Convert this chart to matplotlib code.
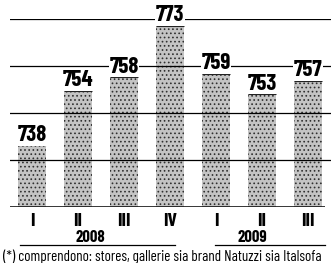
import matplotlib
matplotlib.use('Agg')

import matplotlib.pyplot as plt
import matplotlib.transforms as mtransforms
import numpy as np

quarters = ['I', 'II', 'III', 'IV', 'I', 'II', 'III']
values = [738, 754, 758, 773, 759, 753, 757]
years = ['2008', '2009']
footnote = '(*) comprendono: stores, gallerie sia brand Natuzzi sia Italsofa'

plt.rcParams['font.family'] = ['Barlow Condensed', 'DejaVu Sans']
plt.rcParams['hatch.linewidth'] = 0.7
plt.rcParams['hatch.color'] = '#303030'

fig = plt.figure(figsize=(3.31, 2.63), dpi=100)
ax = fig.add_axes([10 / 331, 56 / 263, 321 / 331, 188 / 263])
ax.set_xlim(-0.48, 6.5)
ax.set_ylim(720, 775)
ax.axis('off')

x = np.arange(len(values))
w = 0.6
ax.bar(x, np.array(values) - 720, bottom=720, width=w, color='#c4c4c4',
       edgecolor='#303030', linewidth=0, hatch='....', zorder=1)
ax.hlines(values, x - w / 2, x + w / 2, color='#222222', lw=0.8, zorder=2)

# horizontal rules
for g in np.linspace(720, 775, 5)[1:]:
    ax.axhline(g, color='black', lw=0.9, zorder=3)
ax.hlines(720, -0.48, 6.37, color='black', lw=1.1, zorder=3)

for xi, v in zip(x, values):
    ax.text(xi, v + 1.3, str(v), ha='center', va='baseline', fontsize=16.5,
            fontweight='bold', zorder=4,
            bbox=dict(facecolor='white', edgecolor='none', pad=0.5))

tr = mtransforms.blended_transform_factory(ax.transData, fig.transFigure)
for xi, q in zip(x, quarters):
    ax.text(xi, 1 - 222 / 263, q, transform=tr, ha='center', va='center',
            fontsize=14, fontweight='bold')

ax.text(1.26, 1 - 238 / 263, years[0], transform=tr, ha='center', va='center',
        fontsize=12, fontweight='bold')
ax.text(4.78, 1 - 238 / 263, years[1], transform=tr, ha='center', va='center',
        fontsize=12, fontweight='bold')
for x0, x1 in [(-0.26, 3.1), (3.98, 6.37)]:
    ax.plot([x0, x1], [1 - 245 / 263] * 2, transform=tr, color='black',
            lw=0.9, clip_on=False)

fig.text(3 / 331, 1 - 257 / 263, footnote, ha='left', va='center', fontsize=10.8)

fig.savefig('out.png', dpi=100)
